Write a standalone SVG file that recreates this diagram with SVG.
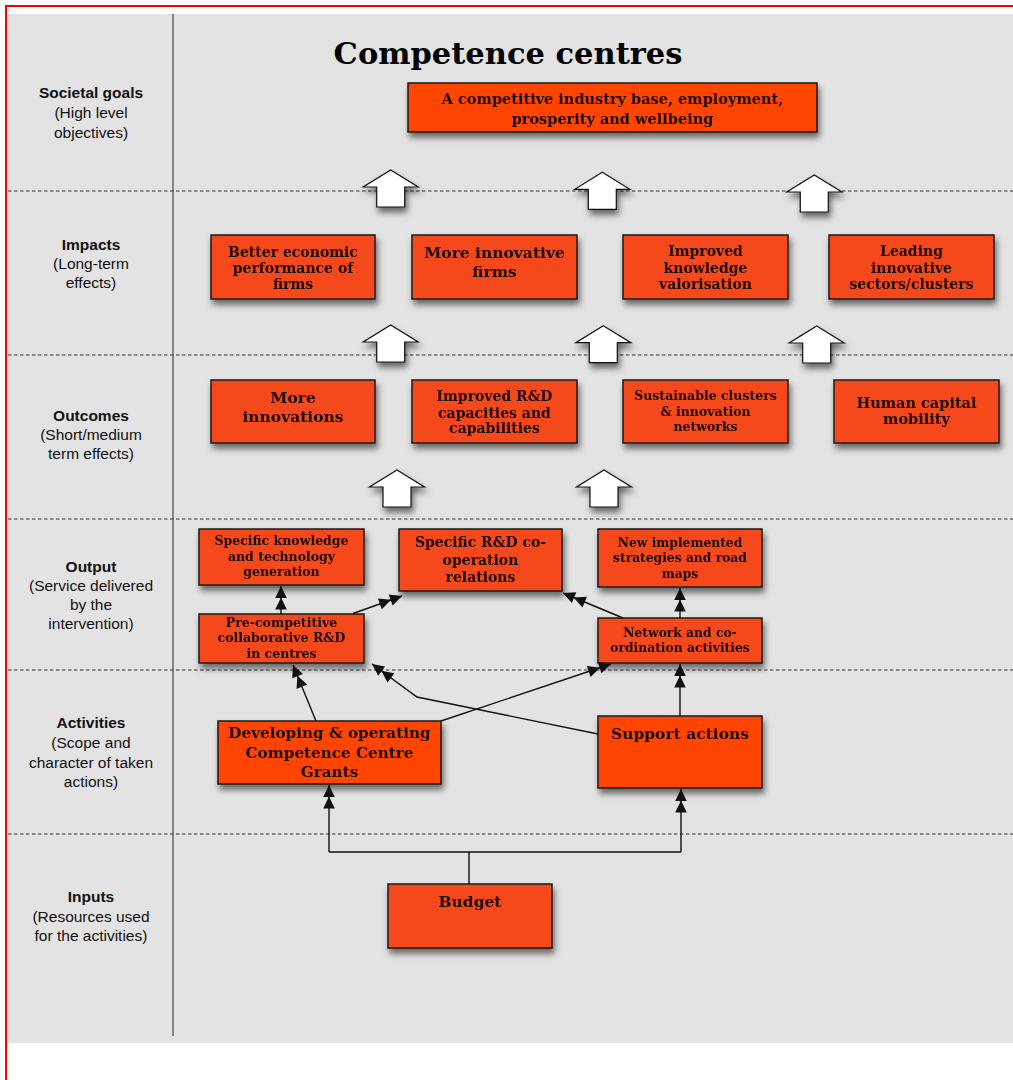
<svg xmlns="http://www.w3.org/2000/svg" width="1013" height="1080" viewBox="0 0 1013 1080">
<defs>
<style>
.lbl{font-family:"Liberation Sans",Arial,sans-serif;font-size:15.5px;fill:#111;text-anchor:middle}
.lb{font-weight:bold}
.box{fill:#f5481a;stroke:#1a1a1a;stroke-width:1.5}
.box2{fill:#ff4400;stroke:#1a1a1a;stroke-width:1.5}
.bt{font-family:"DejaVu Serif",Georgia,serif;font-weight:bold;fill:#1a0800;text-anchor:middle}
.dash{stroke:#333;stroke-width:1.2;stroke-dasharray:3.5 2.5;fill:none}
.con{stroke:#111;stroke-width:1.4;fill:none}
.barrow{fill:#fff;stroke:#111;stroke-width:1.2}
</style>
<filter id="sh" x="-20%" y="-20%" width="150%" height="160%">
<feDropShadow dx="2" dy="5" stdDeviation="3" flood-color="#000" flood-opacity="0.55"/>
</filter>
<path id="ba" d="M0,0 L27.5,17 L14,17 L14,37 L-14,37 L-14,17 L-27.5,17 Z"/>
<marker id="ah" markerUnits="userSpaceOnUse" viewBox="-25 -7 26 14" refX="0" refY="0" markerWidth="26" markerHeight="14" orient="auto">
<path d="M0,0 L-12,-5.8 L-12,5.8 Z M-11.5,0 L-23.5,-5.8 L-23.5,5.8 Z" fill="#111"/>
</marker>
</defs>

<rect x="0" y="0" width="1013" height="1080" fill="#fff"/>
<rect x="8" y="14" width="1005" height="1029" fill="#e3e3e3"/>
<path d="M6,1080 L6,6 L1013,6" fill="none" stroke="#ff0000" stroke-width="2"/>

<g id="grid">
<line x1="173" y1="14" x2="173" y2="1036" stroke="#666" stroke-width="1.5"/>
<line class="dash" x1="8" y1="191" x2="1013" y2="191"/>
<line class="dash" x1="8" y1="355" x2="1013" y2="355"/>
<line class="dash" x1="8" y1="519" x2="1013" y2="519"/>
<line class="dash" x1="8" y1="670" x2="1013" y2="670"/>
<line class="dash" x1="8" y1="834" x2="1013" y2="834"/>
</g>

<g id="labels">
<text class="lbl" x="91" y="97.7"><tspan class="lb">Societal goals</tspan><tspan x="91" y="118.3">(High level</tspan><tspan x="91" y="137.7">objectives)</tspan></text>
<text class="lbl" x="91" y="250"><tspan class="lb">Impacts</tspan><tspan x="91" y="269">(Long-term</tspan><tspan x="91" y="288.3">effects)</tspan></text>
<text class="lbl" x="91" y="420.7"><tspan class="lb">Outcomes</tspan><tspan x="91" y="440">(Short/medium</tspan><tspan x="91" y="459.3">term effects)</tspan></text>
<text class="lbl" x="91" y="571.7"><tspan class="lb">Output</tspan><tspan x="91" y="590.7">(Service delivered</tspan><tspan x="91" y="610">by the</tspan><tspan x="91" y="629.3">intervention)</tspan></text>
<text class="lbl" x="91" y="728.3"><tspan class="lb">Activities</tspan><tspan x="91" y="748.3">(Scope and</tspan><tspan x="91" y="768.3">character of taken</tspan><tspan x="91" y="787.3">actions)</tspan></text>
<text class="lbl" x="91" y="901.7"><tspan class="lb">Inputs</tspan><tspan x="91" y="921.7">(Resources used</tspan><tspan x="91" y="940.7">for the activities)</tspan></text>
</g>

<text id="title" x="508" y="64" font-family="DejaVu Serif,Georgia,serif" font-weight="bold" font-size="30.5" text-anchor="middle" fill="#000">Competence centres</text>

<g id="block-arrows" class="barrow" filter="url(#sh)">
<use href="#ba" x="390.7" y="170"/>
<use href="#ba" x="602.3" y="172.3"/>
<use href="#ba" x="814.3" y="175"/>
<use href="#ba" x="390.7" y="325"/>
<use href="#ba" x="603.3" y="325.7"/>
<use href="#ba" x="816.7" y="326"/>
<use href="#ba" x="397" y="470"/>
<use href="#ba" x="604" y="470"/>
</g>

<g id="n-goal" filter="url(#sh)"><rect class="box2" x="408" y="83" width="409" height="49"/>
<text class="bt" font-size="14.5" x="612.5" y="104.3">A competitive industry base, employment,<tspan x="612.5" y="124">prosperity and wellbeing</tspan></text></g>

<g id="n-imp1" filter="url(#sh)"><rect class="box" x="211" y="235" width="164" height="64"/>
<text class="bt" font-size="14" x="293" y="256.7">Better economic<tspan x="293" y="273.3">performance of</tspan><tspan x="293" y="289">firms</tspan></text></g>
<g id="n-imp2" filter="url(#sh)"><rect class="box" x="412" y="235" width="165" height="64"/>
<text class="bt" font-size="15.5" x="494.5" y="257.7">More innovative<tspan x="494.5" y="277.3">firms</tspan></text></g>
<g id="n-imp3" filter="url(#sh)"><rect class="box" x="623" y="235" width="165" height="64"/>
<text class="bt" font-size="14" x="705.5" y="255.7">Improved<tspan x="705.5" y="272.7">knowledge</tspan><tspan x="705.5" y="289">valorisation</tspan></text></g>
<g id="n-imp4" filter="url(#sh)"><rect class="box" x="829" y="235" width="165" height="64"/>
<text class="bt" font-size="14" x="911.5" y="255.7">Leading<tspan x="911.5" y="272.7">innovative</tspan><tspan x="911.5" y="289">sectors/clusters</tspan></text></g>

<g id="n-out1" filter="url(#sh)"><rect class="box" x="211" y="380" width="164" height="63"/>
<text class="bt" font-size="15.5" x="293" y="402.7">More<tspan x="293" y="421.7">innovations</tspan></text></g>
<g id="n-out2" filter="url(#sh)"><rect class="box" x="412" y="380" width="165" height="63"/>
<text class="bt" font-size="14" x="494.5" y="401">Improved R&amp;D<tspan x="494.5" y="417.7">capacities and</tspan><tspan x="494.5" y="433.3">capabilities</tspan></text></g>
<g id="n-out3" filter="url(#sh)"><rect class="box" x="623" y="380" width="165" height="63"/>
<text class="bt" font-size="12.5" x="705.5" y="400">Sustainable clusters<tspan x="705.5" y="416">&amp; innovation</tspan><tspan x="705.5" y="431">networks</tspan></text></g>
<g id="n-out4" filter="url(#sh)"><rect class="box" x="834" y="380" width="165" height="63"/>
<text class="bt" font-size="14.5" x="916.5" y="408.3">Human capital<tspan x="916.5" y="424">mobility</tspan></text></g>

<g id="n-o-know" filter="url(#sh)"><rect class="box" x="199" y="529" width="165" height="56"/>
<text class="bt" font-size="12.5" x="281.5" y="545">Specific knowledge<tspan x="281.5" y="560.7">and technology</tspan><tspan x="281.5" y="575.7">generation</tspan></text></g>
<g id="n-o-rd" filter="url(#sh)"><rect class="box" x="399" y="529" width="163" height="62"/>
<text class="bt" font-size="14" x="480.5" y="547.3">Specific R&amp;D co-<tspan x="480.5" y="565">operation</tspan><tspan x="480.5" y="581.7">relations</tspan></text></g>
<g id="n-o-new" filter="url(#sh)"><rect class="box" x="598" y="529" width="164" height="58"/>
<text class="bt" font-size="12.3" x="680" y="547.3">New implemented<tspan x="680" y="562.3">strategies and road</tspan><tspan x="680" y="578.3">maps</tspan></text></g>
<g id="n-o-pre" filter="url(#sh)"><rect class="box" x="199" y="614" width="165" height="49"/>
<text class="bt" font-size="12.5" x="281.5" y="627.3">Pre-competitive<tspan x="281.5" y="641.7">collaborative R&amp;D</tspan><tspan x="281.5" y="657.7">in centres</tspan></text></g>
<g id="n-o-net" filter="url(#sh)"><rect class="box" x="598" y="618" width="164" height="45"/>
<text class="bt" font-size="12.3" x="680" y="637.3">Network and co-<tspan x="680" y="651.7">ordination activities</tspan></text></g>

<g id="n-a-dev" filter="url(#sh)"><rect class="box2" x="218" y="721" width="223" height="63"/>
<text class="bt" font-size="15.2" x="329.5" y="738.3">Developing &amp; operating<tspan x="329.5" y="758.3">Competence Centre</tspan><tspan x="329.5" y="777.3">Grants</tspan></text></g>
<g id="n-a-sup" filter="url(#sh)"><rect class="box2" x="598" y="716" width="164" height="72"/>
<text class="bt" font-size="15.5" x="680" y="739.3">Support actions</text></g>

<g id="n-budget" filter="url(#sh)"><rect class="box" x="388" y="884" width="164" height="64"/>
<text class="bt" font-size="15.5" x="470" y="906.7">Budget</text></g>

<g id="connectors" class="con">
<line x1="281" y1="614" x2="281" y2="586" marker-end="url(#ah)"/>
<line x1="353" y1="613.5" x2="402" y2="596" marker-end="url(#ah)"/>
<line x1="623" y1="618" x2="563" y2="593" marker-end="url(#ah)"/>
<line x1="680" y1="618" x2="680" y2="588" marker-end="url(#ah)"/>
<line x1="316" y1="721" x2="293" y2="665" marker-end="url(#ah)"/>
<line x1="441" y1="721" x2="611" y2="664" marker-end="url(#ah)"/>
<polyline points="598,734 417,697 372,664" marker-end="url(#ah)"/>
<line x1="680" y1="716" x2="680" y2="664" marker-end="url(#ah)"/>
<line x1="469" y1="884" x2="469" y2="852"/>
<polyline points="329,852 681,852"/>
<line x1="329" y1="852" x2="329" y2="785" marker-end="url(#ah)"/>
<line x1="681" y1="852" x2="681" y2="789" marker-end="url(#ah)"/>
</g>
</svg>
